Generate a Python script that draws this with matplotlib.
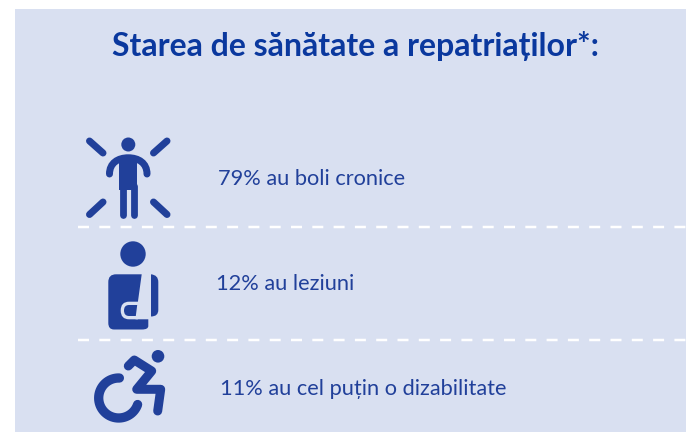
import numpy as np
import matplotlib
matplotlib.use("Agg")
import matplotlib.pyplot as plt
from matplotlib.patches import Rectangle, Circle, PathPatch
from matplotlib.path import Path

plt.rcParams['font.family'] = ['Lato', 'DejaVu Sans']

title = "Starea de sănătate a repatriaților*:"
labels = ["79% au boli cronice", "12% au leziuni", "11% au cel puțin o dizabilitate"]
label_x = [218, 216, 220]
label_y = [179, 284, 389]
divider_y = [227, 340]

panel = "#d9e0f1"
dark = "#21409a"
title_col = "#0a389e"
px = 0.72  # pixel -> points at dpi 100

M, L, C3, C4, Z = Path.MOVETO, Path.LINETO, Path.CURVE3, Path.CURVE4, Path.CLOSEPOLY

fig = plt.figure(figsize=(6.86, 4.32), dpi=100)
ax = fig.add_axes([0, 0, 1, 1])
ax.set_xlim(0, 686)
ax.set_ylim(432, 0)
ax.axis("off")

ax.add_patch(Rectangle((15, 9), 671, 423, color=panel, lw=0))

ax.text(356, 46, title, color=title_col, fontsize=23, fontweight="bold", ha="center", va="center")
for s, x, y in zip(labels, label_x, label_y):
    ax.text(x, y, s, color=dark, fontsize=15.7, ha="left", va="center")

for y in divider_y:
    ax.plot([78, 686], [y, y], color="white", lw=2.5 * px, dashes=(11 / 2.5, 10.3 / 2.5),
            dash_capstyle="butt")


def stroke(xs, ys, w, color=dark):
    ax.plot(xs, ys, color=color, lw=w * px, solid_capstyle="round", solid_joinstyle="round")


def shape(pts, codes, color=dark):
    ax.add_patch(PathPatch(Path(pts, codes), fc=color, ec="none"))


# person with rays
ax.add_patch(Circle((128.3, 144.5), 7, color=dark, lw=0))
ax.add_patch(PathPatch(Path(
    [(109.5, 174), (109.5, 163), (118, 157.8), (128.3, 157.8), (138.5, 157.8), (147, 163), (147, 174)],
    [M, C4, C4, C4, C4, C4, C4]),
    fill=False, ec=dark, lw=7 * px, capstyle="round"))
ax.add_patch(Rectangle((119.3, 156), 18, 33.5, color=dark, lw=0))
stroke([122.7, 122.7], [186, 214.5], 6.8)
stroke([134, 134], [186, 214.5], 6.8)
stroke([89.5, 103], [141, 153], 7)
stroke([167, 153.5], [141, 153], 7)
stroke([103, 89.5], [202, 214.5], 7)
stroke([153.5, 167], [202, 214.5], 7)

# person with arm in a sling
ax.add_patch(Circle((133, 254), 12.7, color=dark, lw=0))
shape([(116, 274.3), (141.7, 274.3), (135.5, 319.3), (148.3, 319.3), (148.3, 326), (148.3, 329.5), (142, 329.5),
       (114, 329.5), (108.3, 329.5), (108.3, 323), (108.3, 282), (108.3, 274.3), (116, 274.3), (116, 274.3)],
      [M, L, L, L, L, C3, C3, L, C3, C3, L, C3, C3, Z])
shape([(138, 301.7), (129, 301.7), (120.7, 301.7), (120.7, 310.5), (120.7, 319.3), (129, 319.3), (138, 319.3), (138, 301.7)],
      [M, L, C3, C3, C3, C3, L, Z], panel)
shape([(137.2, 305), (129, 305), (124, 305), (124, 310.5), (124, 316), (129, 316), (135.8, 316), (137.2, 305)],
      [M, L, C3, C3, C3, C3, L, Z])
shape([(151, 274.3), (158.3, 275), (158.3, 282), (158.3, 310), (158.3, 316.5), (151, 316.5), (151, 274.3)],
      [M, C3, C3, L, C3, C3, Z])

# wheelchair
ax.add_patch(Circle((158, 356.3), 6.3, color=dark, lw=0))
t = np.radians(np.linspace(88, 341, 60))
stroke(118.7 + 20 * np.cos(t), 398 - 20 * np.sin(t), 9.3)
stroke([128.3, 134.3, 151.7, 136.7, 160.7, 157.7], [366, 360, 371, 389.3, 389.3, 411], 9)

fig.savefig("out.png", dpi=100)
